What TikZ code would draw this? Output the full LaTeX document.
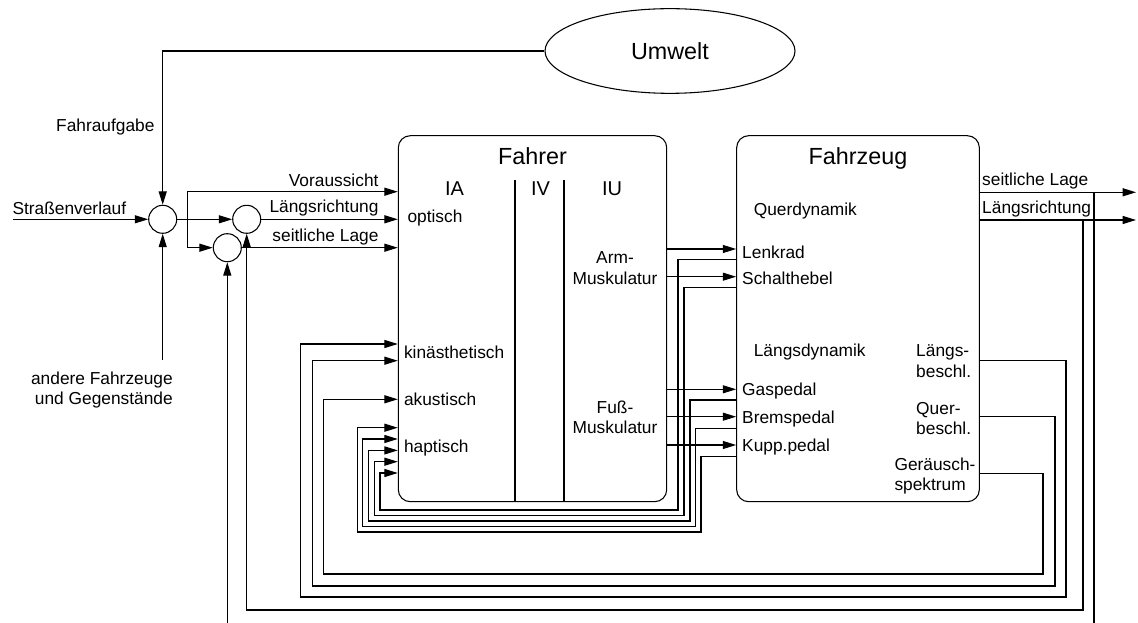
\documentclass[tikz,border=0pt]{standalone}
\usepackage{fontspec}
\setmainfont{Liberation Sans}
\usetikzlibrary{arrows.meta,shapes.geometric}

\begin{document}
\begin{tikzpicture}[x=0.75pt, y=-0.75pt, line width=0.8pt,
  font=\fontsize{13}{15.5}\selectfont,
  blk/.style={draw, rectangle, rounded corners=9pt, minimum height=274.5pt},
  sum/.style={draw, circle, minimum size=21pt, inner sep=0pt},
  ttl/.style={font=\fontsize{17.5}{21}\selectfont},
  hdr/.style={font=\fontsize{15}{18}\selectfont},
  lbl/.style={inner sep=0pt},
  a/.style={-{Triangle[length=10pt,width=6pt]}}]

  \useasboundingbox (0,0) rectangle (1138,623);

  % environment, summing points, blocks
  \node[draw, ellipse, minimum width=187.5pt, minimum height=63.5pt, ttl]
    (umwelt) at (670,51) {Umwelt};
  \node[sum] (s1) at (162.7,219.3) {};
  \node[sum] (s2) at (246.7,219.3) {};
  \node[sum] (s3) at (227.3,247.7) {};
  \node[blk, minimum width=201.3pt] (fahrer) at (532.5,318.7) {};
  \node[blk, minimum width=182pt] (fahrzeug) at (858,318.7) {};

  % free ends
  \coordinate (strin) at (13,219.3);
  \coordinate (andere) at (162.7,360);
  \coordinate (br) at (187.7,219.3);
  \coordinate (vor) at (187.7,191.7);
  \coordinate (outs) at (1136,192.3);
  \coordinate (outl) at (1136,220);
  \coordinate (fbl) at (1083,610);
  \coordinate (fbs) at (1094,626);

  % Fahrer inside
  \node[ttl, lbl, anchor=base] at (532.5,165) {Fahrer};
  \node[hdr, lbl, anchor=base] at (454.5,195.3) {IA};
  \node[hdr, lbl, anchor=base] at (540.5,195.3) {IV};
  \node[hdr, lbl, anchor=base] at (612,195.3) {IU};
  \draw (515,180) -- (fahrer.south -| 515,180);
  \draw (564,180) -- (fahrer.south -| 564,180);
  \node[lbl, anchor=base west] at (407,222.2) {optisch};
  \node[lbl, anchor=base west] at (403.5,358.6) {kinästhetisch};
  \node[lbl, anchor=base west] at (403.5,405.6) {akustisch};
  \node[lbl, anchor=base west] at (403.5,452.2) {haptisch};
  \node[lbl, align=center] at (615,268.3) {Arm-\\Muskulatur};
  \node[lbl, align=center] at (615,417.3) {Fuß-\\Muskulatur};

  % Fahrzeug inside
  \node[ttl, lbl, anchor=base] at (858,164.5) {Fahrzeug};
  \node[lbl, anchor=base west] at (753.3,215.6) {Querdynamik};
  \node[lbl, anchor=base west] at (753.3,356.9) {Längsdynamik};
  \node[lbl, anchor=base west] at (741.7,259) {Lenkrad};
  \node[lbl, anchor=base west] at (741.7,284.6) {Schalthebel};
  \node[lbl, anchor=base west] at (741.7,395.5) {Gaspedal};
  \node[lbl, anchor=base west] at (741.7,423.8) {Bremspedal};
  \node[lbl, anchor=base west] at (741.7,451.2) {Kupp.pedal};
  \node[lbl, align=left, anchor=north west] at (915.7,344) {Längs-\\beschl.};
  \node[lbl, align=left, anchor=north west] at (915.7,401.4) {Quer-\\beschl.};
  \node[lbl, align=left, anchor=north west] at (894,457) {Geräusch-\\spektrum};

  % inputs and summing
  \draw[a] (umwelt.west) -| (s1.north);
  \node[lbl, anchor=base east] at (155,132) {Fahraufgabe};
  \draw[a] (strin) -- (s1.west);
  \node[lbl, anchor=base west] at (12,214.5) {Straßenverlauf};
  \draw[a] (andere) -- (s1.south);
  \node[lbl, align=right, anchor=north east] at (173.3,371)
    {andere Fahrzeuge\\und Gegenstände};
  \draw[a] (s1.east) -- (s2.west);
  \draw[a] (br) |- (fahrer.west |- vor);
  \draw[a] (br) |- (s3.west);
  \draw[a] (s2.east) -- (s2.east -| fahrer.west);
  \draw[a] (s3.east) -- (s3.east -| fahrer.west);
  \node[lbl, anchor=base east] at (379,187) {Voraussicht};
  \node[lbl, anchor=base east] at (379,213) {Längsrichtung};
  \node[lbl, anchor=base east] at (379,241.5) {seitliche Lage};

  % Fahrer -> Fahrzeug
  \foreach \y in {249,276.7,389.3,416.7,445}
    \draw[a] (fahrer.east |- 0,\y) -- (fahrzeug.west |- 0,\y);

  % haptic feedback loops
  \foreach \ys/\xr/\yb/\xl/\ya in {259.3/678/510/380/473, 287.3/684/515.5/374.3/461.7,
      400/690/521/368.6/450.4, 428.3/695.5/526.5/362.9/439, 456.7/701/532/357.2/427.7}
    \draw[a] (fahrzeug.west |- 0,\ys) -| (\xr,\yb) -| (\xl,\ya) -- (fahrer.west |- 0,\ya);

  % kinaesthetic and acoustic feedback
  \foreach \ys/\xr/\yb/\xl/\ya in {360.7/1066/597/300.7/344,
      416.7/1055/586/312.3/360.7, 473.3/1043/574/323.3/399.3}
    \draw[a] (fahrzeug.east |- 0,\ys) -| (\xr,\yb) -| (\xl,\ya) -- (fahrer.west |- 0,\ya);

  % outputs and position feedback
  \draw[a] (fahrzeug.east |- outs) -- (outs);
  \draw[a] (fahrzeug.east |- outl) -- (outl);
  \node[lbl, anchor=base west] at (981.7,185.3) {seitliche Lage};
  \node[lbl, anchor=base west] at (981.7,213.9) {Längsrichtung};
  \draw[a] (fbl |- outl) -- (fbl) -| (s2.south);
  \draw (fbs |- outs) -- (fbs);
  \draw[a] (s3.south |- fbs) -- (s3.south);

\end{tikzpicture}
\end{document}
